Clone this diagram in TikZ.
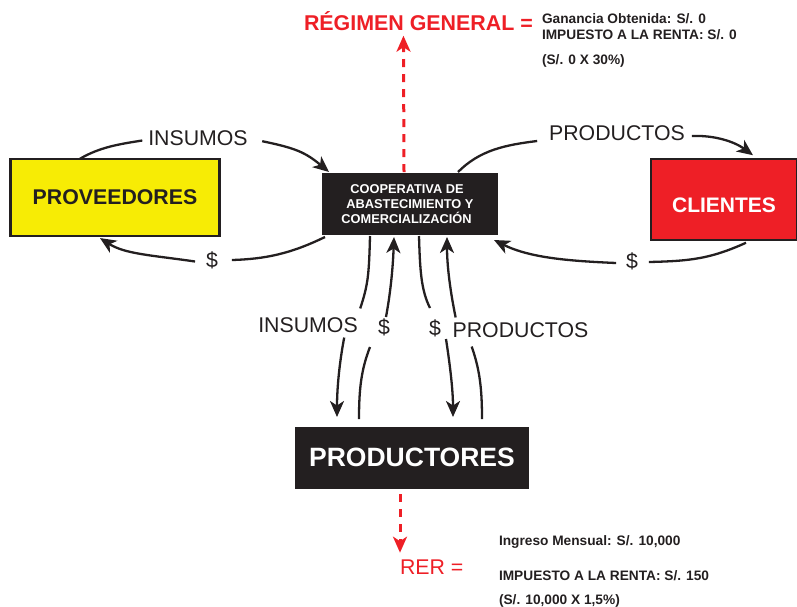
\documentclass[tikz,border=0pt]{standalone}
\usepackage{fontspec}
\setmainfont{Liberation Sans}
\usetikzlibrary{arrows.meta}
\definecolor{ink}{HTML}{231F20}
\definecolor{redc}{HTML}{EE1F26}
\definecolor{yellowc}{HTML}{F7EC05}
\tikzset{
  boxnode/.style={rectangle,inner sep=0pt,outer sep=0pt,align=center,font=\bfseries},
  flowlabel/.style={inner xsep=6pt,inner ysep=0pt,outer sep=0pt,text=ink,font=\fontsize{21.3}{24}\selectfont},
  infotext/.style={anchor=west,inner sep=0pt,outer sep=0pt,text=ink,font=\fontsize{13.7}{15}\selectfont\bfseries},
  conn/.style={draw=ink,line width=2.3pt},
  connarrow/.style={conn,-{Stealth[length=16pt,width=14pt,inset=4.5pt]}},
  taxarrow/.style={draw=redc,line width=3pt,dash pattern=on 8pt off 7pt,-{Stealth[length=16pt,width=14pt,inset=4.5pt]}}
}
\begin{document}
\begin{tikzpicture}[x=1pt,y=-1pt]
\useasboundingbox (0,0) rectangle (797,606);
% boxes
\node[boxnode,draw=ink,line width=2.5pt,fill=yellowc,minimum width=209pt,minimum height=77pt,text=ink,font=\fontsize{21.3}{24}\selectfont\bfseries] (prov) at (115,197.25) {PROVEEDORES};
\node[boxnode,draw=ink,line width=2.5pt,fill=redc,minimum width=146pt,minimum height=81pt,text=white,font=\fontsize{21}{24}\selectfont\bfseries] (cli) at (724,199.25) {\raisebox{-13.25pt}[0pt][0pt]{CLIENTES}};
\node[boxnode,fill=ink,minimum width=176pt,minimum height=62pt,text=white,font=\fontsize{12.8}{15.3}\selectfont\bfseries] (coop) at (410,204) {COOPERATIVA DE\hspace*{6pt}\\ABASTECIMIENTO Y\hspace*{7pt}\\COMERCIALIZACIÓN\hspace*{7pt}};
\node[boxnode,fill=ink,minimum width=234pt,minimum height=62pt,text=white,font=\fontsize{26.5}{30}\selectfont\bfseries] (prodt) at (412,458) {\raisebox{-8.5pt}[0pt][0pt]{PRODUCTORES}};
% labels
\node[flowlabel] (ins1) at (198,138) {INSUMOS};
\node[flowlabel] (prod1) at (617,133) {PRODUCTOS};
\node[flowlabel] (dol1) at (212,260) {\$};
\node[flowlabel] (dol2) at (632,261) {\$};
\node[flowlabel] (ins2) at (308,325) {INSUMOS};
\node[flowlabel] (dol3) at (384,327) {\$};
\node[flowlabel] (dol4) at (435,328) {\$};
\node[flowlabel] (prod2) at (520.5,330) {PRODUCTOS};
% tax texts
\node[anchor=base west,inner sep=0pt,outer sep=0pt,text=redc,font=\fontsize{21.4}{24}\selectfont\bfseries] (reg) at (304,30.5) {RÉGIMEN GENERAL =};
\node[anchor=west,inner sep=0pt,outer sep=0pt,text=redc,font=\fontsize{21.3}{24}\selectfont] (rer) at (400,567) {RER =};
\node[infotext] (gan) at (542,18.5) {Ganancia Obtenida: S/. 0};
\node[infotext] (imp) at (542,34.5) {IMPUESTO A LA RENTA: S/. 0};
\node[infotext] (calc) at (542,60.5) {(S/. 0 X 30\%)};
\node[infotext] (ing) at (499,542) {Ingreso Mensual: S/. 10,000};
\node[infotext] (imp2) at (499,575.5) {IMPUESTO A LA RENTA: S/. 150};
\node[infotext] (calc2) at (499,601) {(S/. 10,000 X 1,5\%)};
% outer connectors
\draw[conn] ([shift={(-35,0)}]prov.north) .. controls (100,147) and (120,144) .. ([shift={(0,2.5)}]ins1.west);
\draw[connarrow] ([shift={(8.5,3.2)}]ins1.east) .. controls (295,148) and (305,152) .. ([shift={(7,-1)}]coop.north west);
\draw[conn] ([shift={(3,2)}]coop.south west) .. controls (290,254) and (265,259) .. ([shift={(8,0)}]dol1.east);
\draw[connarrow] ([shift={(-5,1.5)}]dol1.west) .. controls (150,255) and (125,254) .. ([shift={(-15,2.3)}]prov.south);
\draw[conn] ([shift={(-40,-1)}]coop.north east) .. controls (480,150) and (505,145) .. ([shift={(-6,8)}]prod1.west);
\draw[connarrow] ([shift={(1,3)}]prod1.east) .. controls (715,135) and (735,142) .. ([shift={(29,-3.5)}]cli.north);
\draw[conn] ([shift={(22,3)}]cli.south) .. controls (710,259) and (690,261) .. ([shift={(5,1)}]dol2.east);
\draw[connarrow] ([shift={(-4,2)}]dol2.west) .. controls (570,261) and (530,258) .. ([shift={(-4,5)}]coop.south east);
% vertical connectors
\draw[conn] ([shift={(48,1)}]coop.south west) .. controls (369,275) and (368,285) .. ([shift={(-3.5,-9)}]ins2.north east);
\draw[connarrow] ([shift={(-19.5,5)}]ins2.south east) .. controls (339,365) and (337,390) .. ([shift={(42,-10)}]prodt.north west);
\draw[connarrow] ([shift={(2,-10)}]dol3.center) .. controls (391,290) and (393,265) .. ([shift={(-16,2)}]coop.south);
\draw[conn] ([shift={(-53,-8)}]prodt.north) .. controls (359,390) and (361,370) .. ([shift={(-14,20)}]dol3.center);
\draw[conn] ([shift={(9,1)}]coop.south) .. controls (420,270) and (421,290) .. ([shift={(-5,-20)}]dol4.center);
\draw[connarrow] ([shift={(11,11)}]dol4.center) .. controls (450,365) and (453,390) .. ([shift={(41,-10)}]prodt.north);
\draw[conn] ([shift={(70,-8)}]prodt.north) .. controls (482,390) and (480,370) .. ([shift={(25,9)}]prod2.south west);
\draw[connarrow] ([shift={(9,-5)}]prod2.north west) .. controls (450,290) and (447,265) .. ([shift={(37,2)}]coop.south);
% red arrows
\draw[taxarrow] ([shift={(-6,-1)}]coop.north) -- ([shift={(-15,5)}]reg.south);
\draw[taxarrow] ([shift={(-12,5)}]prodt.south) -- ([shift={(0,-7)}]rer.north west);
\end{tikzpicture}
\end{document}
